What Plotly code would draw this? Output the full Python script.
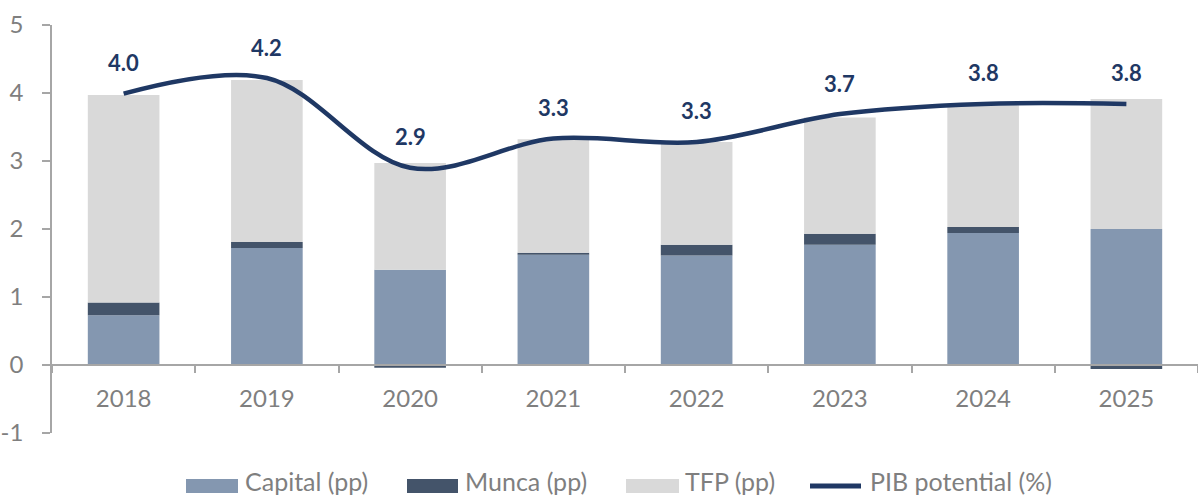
import plotly.graph_objects as go

years = ["2018", "2019", "2020", "2021", "2022", "2023", "2024", "2025"]
capital = [0.73, 1.72, 1.40, 1.62, 1.61, 1.77, 1.94, 2.00]
munca = [0.19, 0.09, -0.04, 0.03, 0.16, 0.16, 0.09, -0.06]
tfp = [3.05, 2.38, 1.57, 1.67, 1.51, 1.71, 1.79, 1.91]
pib = [3.99, 4.22, 2.90, 3.33, 3.28, 3.69, 3.84, 3.84]

y_ticks = [-1, 0, 1, 2, 3, 4, 5]
y_tick_labels = ["-1", "0", "1", "2", "3", "4", "5"]

series_names = ["Capital (pp)", "Munca (pp)", "TFP (pp)", "PIB potential (%)"]
series_colors = ["#8497B0", "#44546A", "#D9D9D9", "#1F3864"]

y_min, y_max = -1, 5

FONT = "Lato"
GRAY_TXT = "#7F7F7F"
AXIS_COL = "#A6A6A6"
NAVY = series_colors[3]

W, H = 1198, 497
ML, MR, MT, MB = 52, 0, 25, 64
PW, PH = W - ML - MR, H - MT - MB

fig = go.Figure()
for vals, name, col in zip([capital, munca, tfp], series_names[:3], series_colors[:3]):
    fig.add_trace(go.Bar(x=years, y=vals, name=name, marker_color=col, marker_line_width=0))
fig.add_trace(go.Scatter(x=years, y=pib, name=series_names[3], mode="lines",
                         line=dict(color=NAVY, width=4.5, shape="spline", smoothing=1.0)))

# value labels above the line (category index positions)
for i, yv in enumerate(pib):
    fig.add_annotation(x=i, y=yv, text=f"{yv:.1f}", showarrow=False, yshift=31,
                       font=dict(family=FONT, size=22, color=NAVY, weight="bold"))

# custom legend (Excel-style wide swatches), placed in paper coordinates
def px_x(p):
    return (p - ML) / PW

def px_y(p):
    return (H - MB - p) / PH

legend_swatch_px = [(186, 238), (407, 458), (626, 679), (808, 863)]
legend_text_px = [243, 463, 683, 868]
leg_cy = 486
leg_text_cy = 481
for k, (name, col) in enumerate(zip(series_names, series_colors)):
    x0, x1 = legend_swatch_px[k]
    if k < 3:
        fig.add_shape(type="rect", xref="paper", yref="paper",
                      x0=px_x(x0), x1=px_x(x1), y0=px_y(leg_cy + 7), y1=px_y(leg_cy - 7),
                      fillcolor=col, line_width=0, layer="above")
    else:
        fig.add_shape(type="line", xref="paper", yref="paper",
                      x0=px_x(x0 + 2), x1=px_x(x1 - 2), y0=px_y(leg_cy), y1=px_y(leg_cy),
                      line=dict(color=col, width=5), layer="above")
    fig.add_annotation(xref="paper", yref="paper", x=px_x(legend_text_px[k]), y=px_y(leg_text_cy),
                       xanchor="left", yanchor="middle", text=name, showarrow=False,
                       font=dict(family=FONT, size=25, color=GRAY_TXT))

fig.update_layout(
    width=W, height=H,
    margin=dict(l=ML, r=MR, t=MT, b=MB),
    barmode="relative",
    bargap=0.5,
    plot_bgcolor="white",
    paper_bgcolor="white",
    font=dict(family=FONT, color=GRAY_TXT),
    showlegend=False,
    xaxis=dict(type="category", categoryorder="array", categoryarray=years,
               range=[-0.5, len(years) - 0.5], automargin=False,
               anchor="free", position=(0 - y_min) / (y_max - y_min),
               showline=True, linecolor=AXIS_COL, linewidth=1.5,
               ticks="outside", tickson="boundaries", ticklen=7, tickcolor=AXIS_COL, tickwidth=1.5,
               tickfont=dict(size=24, color=GRAY_TXT), ticklabelstandoff=12, tickangle=0,
               showgrid=False, zeroline=False),
    yaxis=dict(range=[y_min, y_max], tickmode="array", tickvals=y_ticks, ticktext=y_tick_labels,
               automargin=False, showline=True, linecolor=AXIS_COL, linewidth=1.5,
               ticks="outside", ticklen=8, tickcolor=AXIS_COL, tickwidth=1.5,
               tickfont=dict(size=24, color=GRAY_TXT), ticklabelstandoff=14,
               showgrid=False, zeroline=False),
)

fig.write_html("out.html",
               config={"displayModeBar": False},
               post_script="document.body.style.margin='0px';document.body.style.overflow='hidden';")
